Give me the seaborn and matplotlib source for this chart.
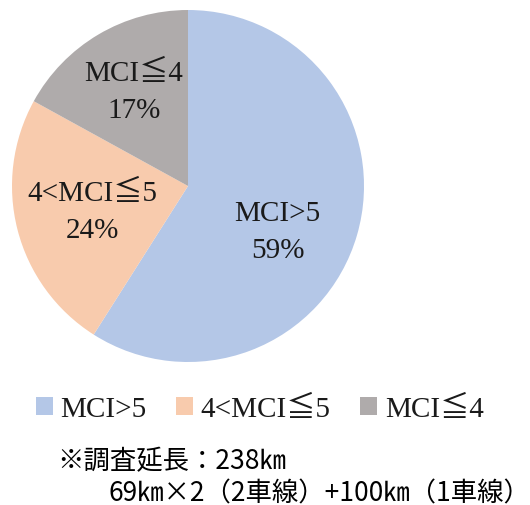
import matplotlib
matplotlib.use("Agg")
import matplotlib.pyplot as plt
import seaborn as sns
import numpy as np
from matplotlib.patches import Patch

sns.set_theme(style="white")

categories = ["MCI>5", "4<MCI≦5", "MCI≦4"]
values = [59, 24, 17]
colors = ["#B4C7E7", "#F8CBAD", "#AFABAB"]
note_lines = ["※調査延長：238㎞", "69㎞×2（2車線）+100㎞（1車線）"]

serif = ["Liberation Serif", "DejaVu Serif", "Noto Sans CJK JP"]
cjk = ["Noto Sans CJK JP", "DejaVu Sans"]

W, H = 530, 506
fig = plt.figure(figsize=(W / 100, H / 100), dpi=100)
cx, cy, r = 188, 187, 176
ax = fig.add_axes([(cx - r) / W, (H - cy - r) / H, 2 * r / W, 2 * r / H])

wedges, _ = ax.pie(values, colors=colors, startangle=90, counterclock=False,
                   wedgeprops=dict(linewidth=0))
ax.set_xlim(-1, 1)
ax.set_ylim(-1, 1)
ax.set_aspect("equal")

# label placement (angle offset in degrees, radius fraction) per slice
label_layout = [(-10.5, 0.57), (0.5, 0.56), (-0.8, 0.62)]
total = sum(values)
start = 90.0
for i, (cat, v) in enumerate(zip(categories, values)):
    sweep = 360.0 * v / total
    mid = start - sweep / 2
    start -= sweep
    doff, rad = label_layout[i]
    a = np.deg2rad(mid + doff)
    ax.text(rad * np.cos(a), rad * np.sin(a), f"{cat}\n{v}%",
            ha="center", va="center", fontsize=21, family=serif,
            color="#1a1a1a", linespacing=1.55)

handles = [Patch(facecolor=c, edgecolor="none") for c in colors]
leg = fig.legend(handles, categories, loc="center", bbox_to_anchor=(0.49, 1 - 410 / H),
                 ncol=3, frameon=False, handlelength=0.6, handleheight=0.6,
                 handletextpad=0.25, columnspacing=1.0,
                 prop=dict(family=serif, size=21))
for t in leg.get_texts():
    t.set_color("#1a1a1a")

fig.text(57 / W, 1 - 462 / H, note_lines[0], ha="left", va="center",
         fontsize=19, family=cjk, color="black")
fig.text(108 / W, 1 - 494 / H, note_lines[1], ha="left", va="center",
         fontsize=19, family=cjk, color="black")

fig.savefig("out.png", dpi=100, facecolor="white")
